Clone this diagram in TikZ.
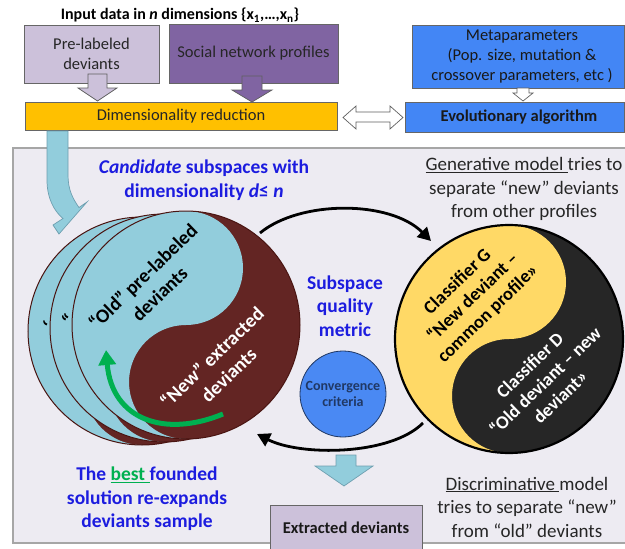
\documentclass[tikz,border=0pt]{standalone}
\usepackage{fontspec}
\setmainfont{Carlito}
\usetikzlibrary{arrows.meta}
\definecolor{lpurple}{HTML}{CCC1DA}
\definecolor{dpurple}{HTML}{8064A2}
\definecolor{gold}{HTML}{FFC000}
\definecolor{boxblue}{HTML}{4386F5}
\definecolor{panelbg}{HTML}{EDEBF2}
\definecolor{panelbd}{HTML}{A6A6A6}
\definecolor{lblue}{HTML}{92CDDC}
\definecolor{lbluebd}{HTML}{6E9FB0}
\definecolor{brown}{HTML}{632523}
\definecolor{brownbd}{HTML}{4A1512}
\definecolor{yell}{HTML}{FFD966}
\definecolor{darkk}{HTML}{262626}
\definecolor{txtblue}{HTML}{1C1CDF}
\definecolor{grn}{HTML}{00B050}
\definecolor{convblue}{HTML}{4A89F3}
\definecolor{convbd}{HTML}{203864}
\newcommand\myyinyang[6]{%
  \fill[#5] (#1,#2) circle[radius=#3];
  \fill[#4] (#1,#2-#3) arc[start angle=270,end angle=90,radius=#3]
     arc[start angle=90,end angle=270,radius=#3/2]
     arc[start angle=90,end angle=-90,radius=#3/2] -- cycle;
  \draw[#6] (#1,#2) circle[radius=#3];
}
\begin{document}
\begin{tikzpicture}[x=1pt,y=-1pt,
  boxlbl/.style={font=\fontsize{16.5}{20}\selectfont, align=center, text=black!85},
  tbox/.style={draw=gray!80!black, line width=0.8pt, inner sep=0pt},
  blockarrow/.style={draw=gray!75!black, line width=0.7pt},
  paneltxt/.style={font=\fontsize{19}{23.5}\selectfont, align=center, text=darkk},
  bluetxt/.style={font=\bfseries\fontsize{19.5}{23.5}\selectfont, align=center, text=txtblue},
  cycarrow/.style={line width=2.8pt, -{Triangle[length=13pt,width=14pt]}},
  oldtxt/.style={font=\bfseries\fontsize{19.5}{24}\selectfont, align=center, text=black, rotate=44},
  cltxt/.style={font=\bfseries\fontsize{18.5}{22}\selectfont, align=center, rotate=44},
  ]
\useasboundingbox (0,0) rectangle (625,549);
\fill[white] (0,0) rectangle (625,549);

% title
\node[font=\bfseries\fontsize{16}{19}\selectfont] (title) at (180,15)
  {Input data in \textit{n} dimensions \{x\textsubscript{1},…,x\textsubscript{n}\}};

% top boxes
\node[tbox, fill=lpurple, minimum width=135pt, minimum height=58pt] (prel) at (91.5,54) {};
\node[boxlbl] at (prel.center) {Pre-labeled\\deviants};
\node[tbox, fill=dpurple, minimum width=169pt, minimum height=59pt] (soc) at (253.5,53.5) {};
\node[boxlbl] at (soc.center) {Social network profiles};
\node[tbox, fill=gold, minimum width=312pt, minimum height=28pt] (dimred) at (181,116) {};
\node[boxlbl] at (dimred.center) {Dimensionality reduction};
\node[tbox, fill=boxblue, minimum width=212pt, minimum height=63pt] (meta) at (518,56.5) {};
\node[boxlbl, text=black!90] at (522,57) {Metaparameters\\(Pop. size, mutation \&\\crossover parameters, etc )};
\node[tbox, fill=boxblue, minimum width=219pt, minimum height=30pt] (evo) at (514.5,117) {};
\node[boxlbl, font=\bfseries\fontsize{16.5}{19}\selectfont, text=black!90] at (519,117) {Evolutionary algorithm};

% block arrows in the top part
\draw[blockarrow, fill=lpurple] (88,74) -- (107,74) -- (107,88) -- (117,88) -- (97.5,101) -- (78,88) -- (88,88) -- cycle;
\draw[blockarrow, fill=dpurple] (242,76) -- (262,76) -- (262,90) -- (272,90) -- (252,102) -- (232,90) -- (242,90) -- cycle;
\draw[blockarrow, fill=white] (517,88) -- (529,88) -- (529,93) -- (533,93) -- (523,101) -- (513,93) -- (517,93) -- cycle;
\draw[blockarrow, fill=white] (343,117.5) -- (356,106) -- (356,112) -- (390,112) -- (390,106) -- (403,117.5)
   -- (390,129) -- (390,122) -- (356,122) -- (356,129) -- cycle;

% panel
\draw[fill=panelbg, draw=panelbd, line width=1.5pt] (13,148) rectangle (640,543);

% curved blue arrow from the reduction bar
\draw[fill=lblue, draw=lbluebd, line width=0.7pt]
  (47,131) -- (47,180) .. controls (47,198) and (54,211) .. (63,218.5)
  -- (53,225) -- (59,234) -- (87,202) -- (79,207.5)
  .. controls (73,199) and (68,190) .. (68,175) -- (68,131) -- cycle;

% left stack of yin-yangs
\myyinyang{142}{331}{114}{lblue}{brown}{brownbd, line width=1pt}
\node[oldtxt, inner sep=0pt] (q1) at (48,327) {‘};
\myyinyang{164}{328}{114}{lblue}{brown}{brownbd, line width=1pt}
\node[oldtxt, inner sep=0pt] (q2) at (68,320) {“};
\myyinyang{186}{325}{114}{lblue}{brown}{brownbd, line width=1pt}
\node[oldtxt] (oldt) at (151,285) {“Old” pre-labeled\\deviants};
\node[oldtxt, text=white] (newt) at (220,366) {“New” extracted\\deviants};
\coordinate (gs) at (223,414);
\coordinate (ge) at (106,350);
\draw[grn, line width=5pt, -{Triangle[length=15pt,width=17pt]}] (gs) .. controls (165,438) and (112,420) .. (ge);

% right yin-yang
\myyinyang{509}{339}{114}{yell}{darkk}{black, line width=2.2pt}
\node[cltxt, text=black] (clg) at (473,298) {Classifier G\\“New deviant –\\common profile»};
\node[cltxt, text=white] (cld) at (545,381) {Classifier D\\“Old deviant – new\\deviant»};

% middle
\node[bluetxt] (ssq) at (345,306) {Subspace\\quality\\metric};
\node[circle, fill=convblue, draw=convbd, line width=0.8pt, minimum size=86pt, inner sep=0pt,
      font=\bfseries\fontsize{14}{16.5}\selectfont, align=center, text=convbd] (conv) at (343,394) {Convergence\\criteria};

% cycle arrows
\coordinate (a1s) at (260,233);
\coordinate (a1e) at (431,241);
\coordinate (a2s) at (423,423);
\coordinate (a2e) at (257,434);
\draw[cycarrow] (a1s) .. controls (300,200) and (390,200) .. (a1e);
\draw[cycarrow] (a2s) .. controls (390,456) and (300,456) .. (a2e);

% panel texts
\node[bluetxt] (cand) at (204,180) {\textit{Candidate} subspaces with\\dimensionality \textit{d}≤ \textit{n}};
\node[paneltxt] (gen) at (524,189) {\underline{Generative model }tries to\\separate “new” deviants\\from other profiles};
\node[paneltxt] (disc) at (527,507) {\underline{Discriminative }model\\tries to separate “new”\\from “old” deviants};
\node[bluetxt] (best) at (147,499) {The \textcolor{grn}{\underline{best }}founded\\solution re-expands\\deviants sample};

% extracted deviants
\draw[blockarrow, draw=lbluebd, fill=lblue] (336,455) -- (356,455) -- (356,466) -- (373,466) -- (344,486) -- (315,466) -- (336,466) -- cycle;
\node[tbox, fill=lpurple, minimum width=152pt, minimum height=60pt, anchor=north west] (extr) at (270,505) {};
\node[font=\bfseries\fontsize{16.5}{19}\selectfont, text=black!90] at (346,528) {Extracted deviants};
\end{tikzpicture}
\end{document}
